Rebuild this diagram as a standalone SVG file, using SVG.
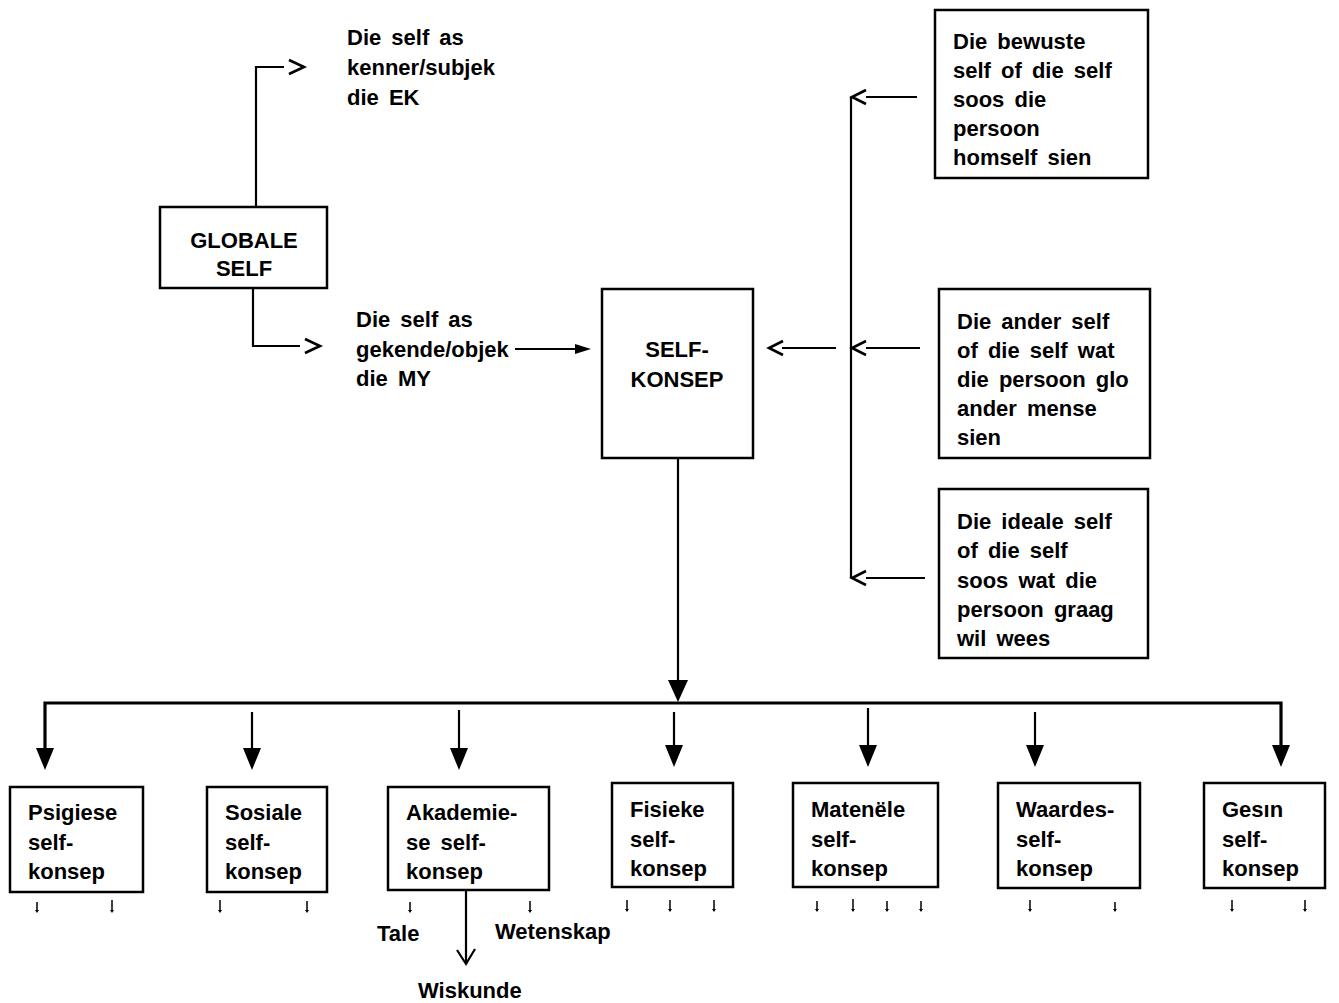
<svg xmlns="http://www.w3.org/2000/svg" width="1339" height="1003" viewBox="0 0 1339 1003">
<style>
.box{fill:#fff;stroke:#000;stroke-width:2.5}
.t{font-family:"Liberation Sans",Arial,sans-serif;font-size:22px;font-weight:bold;fill:#000;word-spacing:4px}
.c{text-anchor:middle}
.ln{fill:none;stroke:#000;stroke-width:2.2}
.chev{fill:none;stroke:#000;stroke-width:2.6}
.bus{fill:none;stroke:#000;stroke-width:3.2}
.tri{fill:#000;stroke:none}
.tick{fill:none;stroke:#000;stroke-width:1.5}
</style>
<rect width="1339" height="1003" fill="#fff"/>
<g id="connectors">
  <path class="ln" d="M256,207 V67 H284"/>
  <polyline class="chev" points="289,60 304,67 289,74"/>
  <path class="ln" d="M253,288 V346 H300"/>
  <polyline class="chev" points="305,339 320,346 305,353"/>
  <line class="ln" x1="515" y1="349" x2="580" y2="349"/>
  <polygon class="tri" points="575,344 591,349 575,354"/>
  <line class="ln" x1="782" y1="348" x2="836" y2="348"/>
  <polyline class="chev" points="783,341 769,348 783,355"/>
  <path class="ln" d="M851,97 V578"/>
  <line class="ln" x1="866" y1="97" x2="917" y2="97"/>
  <polyline class="chev" points="866,90 852,97 866,104"/>
  <line class="ln" x1="866" y1="348" x2="920" y2="348"/>
  <polyline class="chev" points="866,341 852,348 866,355"/>
  <line class="ln" x1="866" y1="578" x2="925" y2="578"/>
  <polyline class="chev" points="866,571 852,578 866,585"/>
  <line class="ln" x1="678" y1="458" x2="678" y2="682"/>
  <polygon class="tri" points="668,680 688,680 678,702"/>
  <path class="bus" d="M45,748 V703 H1281 V745"/>
  <polygon class="tri" points="36,748 54,748 45,770"/>
  <line class="ln" x1="252" y1="712" x2="252" y2="750"/>
  <polygon class="tri" points="243,748 261,748 252,770"/>
  <line class="ln" x1="459" y1="710" x2="459" y2="750"/>
  <polygon class="tri" points="450,748 468,748 459,770"/>
  <line class="ln" x1="674" y1="712" x2="674" y2="747"/>
  <polygon class="tri" points="665,745 683,745 674,767"/>
  <line class="ln" x1="868" y1="708" x2="868" y2="747"/>
  <polygon class="tri" points="859,745 877,745 868,767"/>
  <line class="ln" x1="1035" y1="712" x2="1035" y2="747"/>
  <polygon class="tri" points="1026,745 1044,745 1035,767"/>
  <polygon class="tri" points="1272,745 1290,745 1281,767"/>
  <line class="ln" x1="466" y1="890" x2="466" y2="963"/>
  <polyline class="ln" points="457,950 466,964 475,949"/>
  <g class="tick">
    <path d="M37,902 V911 M112,900 V911 M220,900 V911 M307,901 V911 M410,902 V911 M530,901 V911 M627,900 V910 M670,900 V910 M714,900 V910 M817,901 V910 M853,899 V910 M887,901 V910 M921,901 V910 M1030,900 V910 M1115,902 V910 M1232,900 V910 M1305,900 V910"/>
  </g>
  <g class="tri">
    <path d="M35,910 h4 l-2,3z M110,910 h4 l-2,3z M218,910 h4 l-2,3z M305,910 h4 l-2,3z M408,910 h4 l-2,3z M528,910 h4 l-2,3z M625,909 h4 l-2,3z M668,909 h4 l-2,3z M712,909 h4 l-2,3z M815,909 h4 l-2,3z M851,909 h4 l-2,3z M885,909 h4 l-2,3z M919,909 h4 l-2,3z M1028,909 h4 l-2,3z M1113,909 h4 l-2,3z M1230,909 h4 l-2,3z M1303,909 h4 l-2,3z"/>
  </g>
</g>
<g id="globale-self">
  <rect class="box" x="160" y="207" width="167" height="81"/>
  <text class="t c" x="244" y="248">GLOBALE</text>
  <text class="t c" x="244" y="276">SELF</text>
</g>
<g id="self-ek">
  <text class="t" x="347" y="45">Die self as</text>
  <text class="t" x="347" y="75">kenner/subjek</text>
  <text class="t" x="347" y="105">die EK</text>
</g>
<g id="self-my">
  <text class="t" x="356" y="327">Die self as</text>
  <text class="t" x="356" y="357">gekende/objek</text>
  <text class="t" x="356" y="386">die MY</text>
</g>
<g id="self-konsep">
  <rect class="box" x="602" y="289" width="151" height="169"/>
  <text class="t c" x="677" y="357">SELF-</text>
  <text class="t c" x="677" y="387">KONSEP</text>
</g>
<g id="bewuste-self">
  <rect class="box" x="935" y="10" width="213" height="168"/>
  <text class="t" x="953" y="49">Die bewuste</text>
  <text class="t" x="953" y="78">self of die self</text>
  <text class="t" x="953" y="107">soos die</text>
  <text class="t" x="953" y="136">persoon</text>
  <text class="t" x="953" y="165">homself sien</text>
</g>
<g id="ander-self">
  <rect class="box" x="939" y="289" width="211" height="169"/>
  <text class="t" x="957" y="329">Die ander self</text>
  <text class="t" x="957" y="358">of die self wat</text>
  <text class="t" x="957" y="387">die persoon glo</text>
  <text class="t" x="957" y="416">ander mense</text>
  <text class="t" x="957" y="445">sien</text>
</g>
<g id="ideale-self">
  <rect class="box" x="939" y="489" width="209" height="169"/>
  <text class="t" x="957" y="529">Die ideale self</text>
  <text class="t" x="957" y="558">of die self</text>
  <text class="t" x="957" y="588">soos wat die</text>
  <text class="t" x="957" y="617">persoon graag</text>
  <text class="t" x="957" y="646">wil wees</text>
</g>
<g id="psigiese">
  <rect class="box" x="10" y="787" width="133" height="105"/>
  <text class="t" x="28" y="820">Psigiese</text>
  <text class="t" x="28" y="850">self-</text>
  <text class="t" x="28" y="879">konsep</text>
</g>
<g id="sosiale">
  <rect class="box" x="207" y="787" width="120" height="105"/>
  <text class="t" x="225" y="820">Sosiale</text>
  <text class="t" x="225" y="850">self-</text>
  <text class="t" x="225" y="879">konsep</text>
</g>
<g id="akademiese">
  <rect class="box" x="388" y="787" width="161" height="103"/>
  <text class="t" x="406" y="820">Akademie-</text>
  <text class="t" x="406" y="850">se self-</text>
  <text class="t" x="406" y="879">konsep</text>
</g>
<g id="fisieke">
  <rect class="box" x="612" y="783" width="121" height="104"/>
  <text class="t" x="630" y="817">Fisieke</text>
  <text class="t" x="630" y="847">self-</text>
  <text class="t" x="630" y="876">konsep</text>
</g>
<g id="materiele">
  <rect class="box" x="793" y="783" width="145" height="104"/>
  <text class="t" x="811" y="817">Matenële</text>
  <text class="t" x="811" y="847">self-</text>
  <text class="t" x="811" y="876">konsep</text>
</g>
<g id="waardes">
  <rect class="box" x="998" y="783" width="142" height="105"/>
  <text class="t" x="1016" y="817">Waardes-</text>
  <text class="t" x="1016" y="847">self-</text>
  <text class="t" x="1016" y="876">konsep</text>
</g>
<g id="gesin">
  <rect class="box" x="1204" y="783" width="121" height="105"/>
  <text class="t" x="1222" y="817">Gesın</text>
  <text class="t" x="1222" y="847">self-</text>
  <text class="t" x="1222" y="876">konsep</text>
</g>
<g id="tale"><text class="t" x="377" y="941">Tale</text></g>
<g id="wetenskap"><text class="t" x="495" y="939">Wetenskap</text></g>
<g id="wiskunde"><text class="t" x="418" y="998">Wiskunde</text></g>
</svg>
